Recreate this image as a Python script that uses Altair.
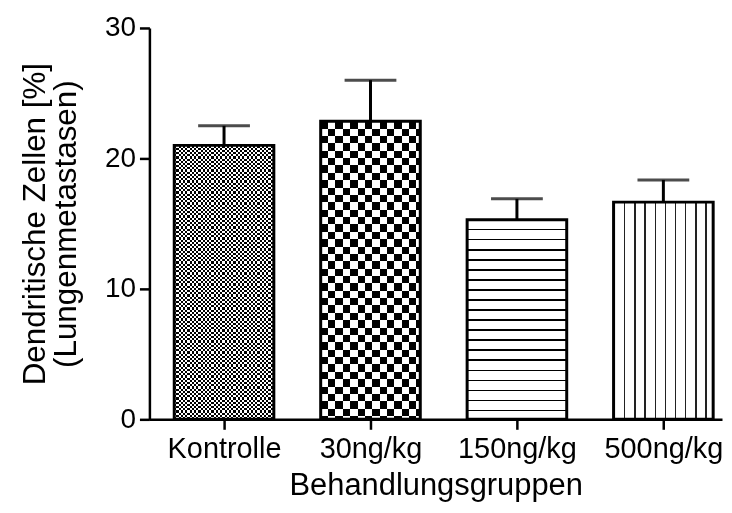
import altair as alt
import pandas as pd

groups = ["Kontrolle", "30ng/kg", "150ng/kg", "500ng/kg"]
means = [21.0, 22.85, 15.3, 16.65]
sems = [1.5, 3.15, 1.6, 1.7]
y_ticks = [0, 10, 20, 30]

W, H = 575, 393
YMAX = 30
BAR_W = 100
FONT = "Liberation Sans, Arial, Helvetica, sans-serif"

df = pd.DataFrame({
    "group": groups,
    "mean": means,
    "upper": [m + s for m, s in zip(means, sems)],
})


def stripes(length, period, thick, start, along_y, fg="black", bg="white"):
    stops = [{"offset": 0, "color": bg}]
    pos = start
    while pos < length:
        a = pos / length
        b = min((pos + thick) / length, 1)
        stops += [
            {"offset": a, "color": bg},
            {"offset": a, "color": fg},
            {"offset": b, "color": fg},
            {"offset": b, "color": bg},
        ]
        pos += period
    stops.append({"offset": 1, "color": bg})
    g = {"gradient": "linear", "stops": stops, "x1": 0, "y1": 0}
    if along_y:
        g.update({"x2": 0, "y2": 1})
    else:
        g.update({"x2": 1, "y2": 0})
    return g


def bar_h(v):
    return v / YMAX * H


x_enc = alt.X(
    "group:N",
    sort=groups,
    scale=alt.Scale(type="point", padding=0.455, align=0.56),
    axis=alt.Axis(
        title="Behandlungsgruppen",
        labelAngle=0,
        labelFontSize=29,
        titleFontSize=31,
        labelPadding=5,
        titlePadding=7,
        tickSize=10,
    ),
)
y_enc = alt.Y(
    "mean:Q",
    scale=alt.Scale(domain=[0, YMAX], nice=False, zero=True),
    axis=alt.Axis(
        title=["Dendritische Zellen [%]", "(Lungenmetastasen)"],
        values=y_ticks,
        grid=False,
        labelFontSize=28,
        titleFontSize=31.5,
        titleLineHeight=31,
        labelPadding=4,
        titlePadding=22,
        tickSize=10,
    ),
)

base = alt.Chart(df).encode(x=x_enc, y=y_enc)

layers = []
stem = base.mark_rule(strokeWidth=3, color="black").encode(y2="upper:Q")
cap = base.mark_tick(size=52, thickness=3, color="black").encode(y="upper:Q")
layers += [stem, cap]

patterns = {
    "Kontrolle": ("checker", 2.2),
    "30ng/kg": ("checker", 7.4),
    "150ng/kg": ("hlines", (10.1, 1.7, 9.0)),
    "500ng/kg": ("vlines", (10.2, 1.4, 10.5)),
}

for g, v in zip(groups, means):
    kind, p = patterns[g]
    sub = base.transform_filter(alt.datum.group == g)
    h = bar_h(v)
    if kind == "checker":
        c = p
        layers.append(sub.mark_bar(width=BAR_W, fill=stripes(h, 2 * c, c, 0, True), strokeWidth=0))
        layers.append(sub.mark_bar(width=BAR_W, fill=stripes(BAR_W, 2 * c, c, 0, False),
                                   strokeWidth=0, blend="difference"))
    elif kind == "hlines":
        per, th, st = p
        layers.append(sub.mark_bar(width=BAR_W, fill=stripes(h, per, th, st, True), strokeWidth=0))
    else:
        per, th, st = p
        layers.append(sub.mark_bar(width=BAR_W, fill=stripes(BAR_W, per, th, st, False, fg="#222"), strokeWidth=0))

outline = base.mark_bar(width=BAR_W, fill="transparent", stroke="black", strokeWidth=3)
layers.append(outline)

chart = (
    alt.layer(*layers)
    .properties(
        width=W,
        height=H,
        autosize="none",
        padding={"left": 142, "top": 19, "right": 2, "bottom": 90},
        background="white",
    )
    .configure_view(stroke=None)
    .configure_axis(
        labelFont=FONT,
        titleFont=FONT,
        labelColor="black",
        titleColor="black",
        titleFontWeight="normal",
        domainColor="black",
        tickColor="black",
        domainWidth=2.5,
        tickWidth=2.5,
    )
)

chart.save("out.html", embed_options={"renderer": "svg", "actions": False})
